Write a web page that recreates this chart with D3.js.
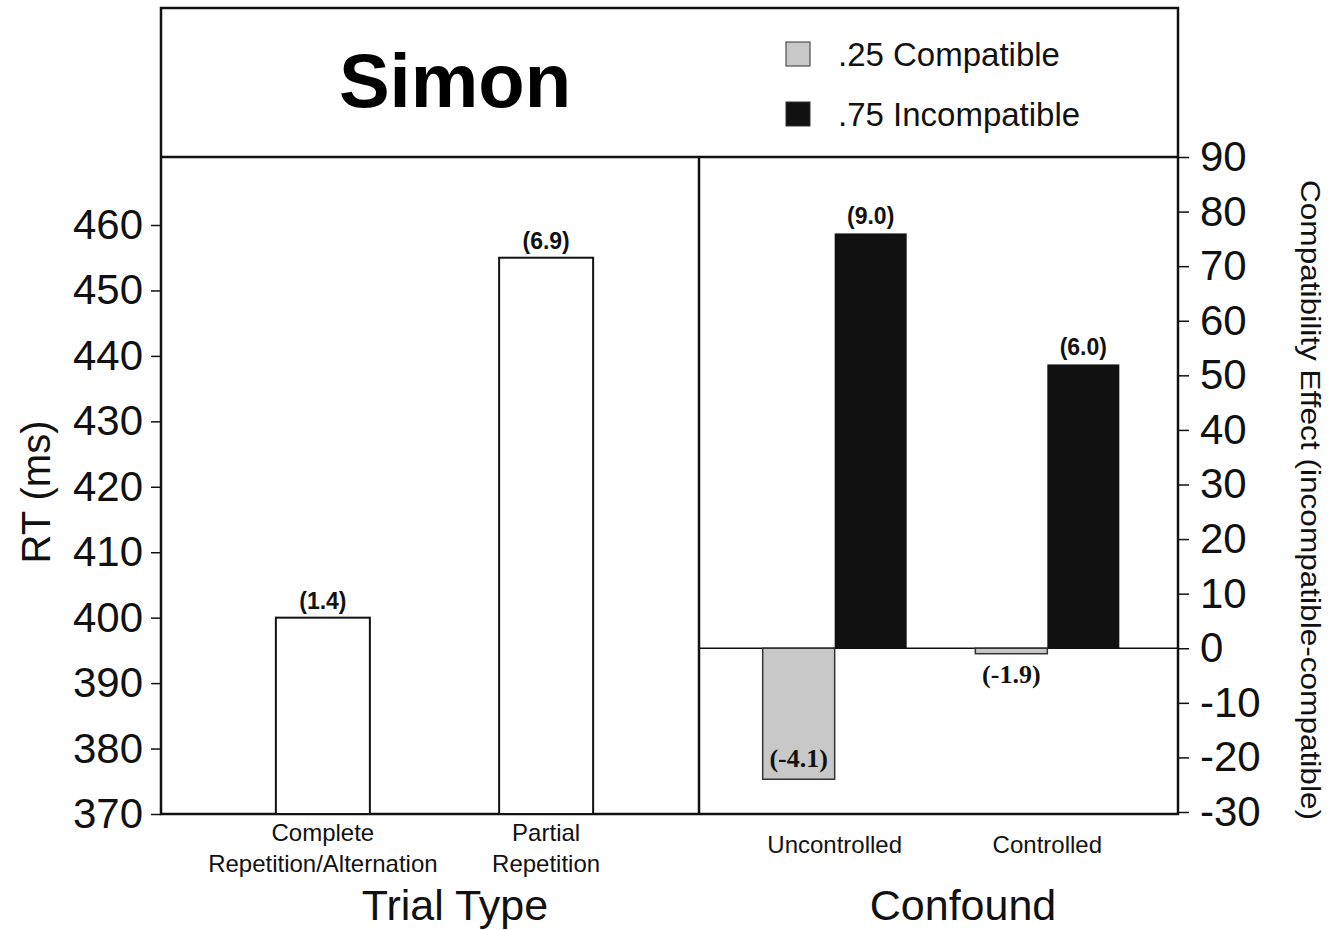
<!DOCTYPE html>
<html lang="en">
<head>
    <meta charset="UTF-8">
    <title>Simon</title>
    <script src="https://d3js.org/d3.v7.min.js"></script>
    <style>
        body { margin: 0; background: #fff; }
        svg { font-family: "Liberation Sans", Arial, sans-serif; }
        .frame { fill: none; stroke: #111; stroke-width: 2.5px; }
        .axis text { font-size: 42px; fill: #111; }
        .axis line { stroke: #111; stroke-width: 1.5px; }
        .axis path { display: none; }
        .cat { font-size: 24px; text-anchor: middle; fill: #111; }
        .bar-label { font-size: 23px; font-weight: bold; text-anchor: middle; fill: #111; }
        .serif { font-family: "Liberation Serif", "Times New Roman", serif; font-size: 26px; }
    </style>
</head>
<body>
<svg width="1332" height="930"></svg>
<script>
    // data
    const trialTypes = [["Complete", "Repetition/Alternation"], ["Partial", "Repetition"]];
    const rtValues = [400, 455];
    const rtLabels = ["(1.4)", "(6.9)"];
    const rtTicks = [370, 380, 390, 400, 410, 420, 430, 440, 450, 460];

    const confounds = ["Uncontrolled", "Controlled"];
    const compatibleEffect = [-24, -1];
    const incompatibleEffect = [76, 52];
    const compatibleLabels = ["(-4.1)", "(-1.9)"];
    const incompatibleLabels = ["(9.0)", "(6.0)"];
    const effectTicks = [-30, -20, -10, 0, 10, 20, 30, 40, 50, 60, 70, 80, 90];

    const svg = d3.select("svg");

    // layout
    const frameL = 161, frameMid = 699, frameR = 1178;
    const frameT = 8, frameSplit = 157, frameB = 814;

    // scales
    const yRT = d3.scaleLinear().domain([370, 460]).range([frameB, 225]);
    const yEff = d3.scaleLinear().domain([-30, 90]).range([812, frameSplit]);
    const xTrial = d3.scalePoint().domain(d3.range(trialTypes.length)).range([frameL, 708]).padding(0.725);
    const xConf = d3.scalePoint().domain(confounds).range([frameMid, 1183]).padding(0.638);
    const barW = 94, halfW = 72;

    // frames
    svg.append("rect").attr("class", "frame")
        .attr("x", frameL).attr("y", frameT).attr("width", frameR - frameL).attr("height", frameB - frameT);
    svg.append("line").attr("class", "frame")
        .attr("x1", frameL).attr("x2", frameR).attr("y1", frameSplit).attr("y2", frameSplit);
    svg.append("line").attr("class", "frame")
        .attr("x1", frameMid).attr("x2", frameMid).attr("y1", frameSplit).attr("y2", frameB);

    // title and legend
    svg.append("text").attr("x", 455).attr("y", 107)
        .attr("text-anchor", "middle").style("font-size", "76px").style("font-weight", "bold")
        .text("Simon");

    const legendItems = [
        {label: ".25 Compatible", fill: "#c8c8c8"},
        {label: ".75 Incompatible", fill: "#111"}
    ];
    const legend = svg.selectAll(".legend").data(legendItems).enter().append("g")
        .attr("class", "legend")
        .attr("transform", (d, i) => `translate(786, ${42 + i * 60})`);
    legend.append("rect").attr("width", 24).attr("height", 24)
        .attr("fill", d => d.fill).attr("stroke", "#333").attr("stroke-width", 1);
    legend.append("text").attr("x", 52).attr("y", 24)
        .style("font-size", "33px").style("fill", "#111")
        .text(d => d.label);

    // left axis
    svg.append("g").attr("class", "axis")
        .attr("transform", `translate(${frameL},0)`)
        .call(d3.axisLeft(yRT).tickValues(rtTicks).tickSize(10).tickPadding(8)
            .tickFormat(d => String(d)));

    // right axis
    svg.append("g").attr("class", "axis")
        .attr("transform", `translate(${frameR},0)`)
        .call(d3.axisRight(yEff).tickValues(effectTicks).tickSize(11).tickPadding(11)
            .tickFormat(d => String(d)));

    // left bars
    svg.selectAll(".rt-bar").data(rtValues).enter().append("rect")
        .attr("class", "rt-bar")
        .attr("x", (d, i) => xTrial(i) - barW / 2)
        .attr("y", d => yRT(d))
        .attr("width", barW)
        .attr("height", d => yRT(370) - yRT(d))
        .attr("fill", "#fff").attr("stroke", "#111").attr("stroke-width", 2);

    svg.selectAll(".rt-label").data(rtValues).enter().append("text")
        .attr("class", "bar-label")
        .attr("x", (d, i) => xTrial(i))
        .attr("y", d => yRT(d) - 9)
        .text((d, i) => rtLabels[i]);

    // left category labels
    trialTypes.forEach((lines, i) => {
        const t = svg.append("text").attr("class", "cat").attr("y", 841);
        lines.forEach((ln, j) => {
            t.append("tspan").attr("x", xTrial(i)).attr("dy", j === 0 ? 0 : 31).text(ln);
        });
    });

    // right bars
    svg.append("line")
        .attr("x1", frameMid).attr("x2", frameR)
        .attr("y1", yEff(0)).attr("y2", yEff(0))
        .attr("stroke", "#111").attr("stroke-width", 1.3);

    svg.selectAll(".comp-bar").data(compatibleEffect).enter().append("rect")
        .attr("class", "comp-bar")
        .attr("x", (d, i) => xConf(confounds[i]) - halfW)
        .attr("y", d => yEff(Math.max(0, d)))
        .attr("width", halfW)
        .attr("height", d => Math.abs(yEff(d) - yEff(0)))
        .attr("fill", "#c8c8c8").attr("stroke", "#333").attr("stroke-width", 1.5);

    svg.selectAll(".incomp-bar").data(incompatibleEffect).enter().append("rect")
        .attr("class", "incomp-bar")
        .attr("x", (d, i) => xConf(confounds[i]))
        .attr("y", d => yEff(Math.max(0, d)))
        .attr("width", halfW)
        .attr("height", d => Math.abs(yEff(d) - yEff(0)))
        .attr("fill", "#111");

    svg.selectAll(".incomp-label").data(incompatibleEffect).enter().append("text")
        .attr("class", "bar-label")
        .attr("x", (d, i) => xConf(confounds[i]) + halfW / 2)
        .attr("y", d => yEff(d) - 9)
        .text((d, i) => incompatibleLabels[i]);

    // negative labels: the big one sits inside its bar, the small one below
    svg.selectAll(".comp-label").data(compatibleEffect).enter().append("text")
        .attr("class", "bar-label serif")
        .attr("x", (d, i) => xConf(confounds[i]) - halfW / 2)
        .attr("y", d => d < -10 ? yEff(d) - 12 : yEff(d) + 29)
        .text((d, i) => compatibleLabels[i]);

    svg.selectAll(".conf-label").data(confounds).enter().append("text")
        .attr("class", "cat")
        .attr("x", d => xConf(d))
        .attr("y", 853)
        .text(d => d);

    // axis titles
    svg.append("text").attr("x", 455).attr("y", 920)
        .attr("text-anchor", "middle").style("font-size", "43px").style("fill", "#111")
        .text("Trial Type");
    svg.append("text").attr("x", 963).attr("y", 920)
        .attr("text-anchor", "middle").style("font-size", "43px").style("fill", "#111")
        .text("Confound");

    svg.append("text")
        .attr("transform", "translate(50,492) rotate(-90)")
        .attr("text-anchor", "middle").style("font-size", "40px").style("fill", "#111")
        .text("RT (ms)");

    svg.append("text")
        .attr("transform", "translate(1301,500) rotate(90)")
        .attr("text-anchor", "middle").style("font-size", "28px").style("fill", "#111")
        .attr("textLength", 640).attr("lengthAdjust", "spacingAndGlyphs")
        .text("Compatibility Effect (incompatible-compatible)");
</script>
</body>
</html>
